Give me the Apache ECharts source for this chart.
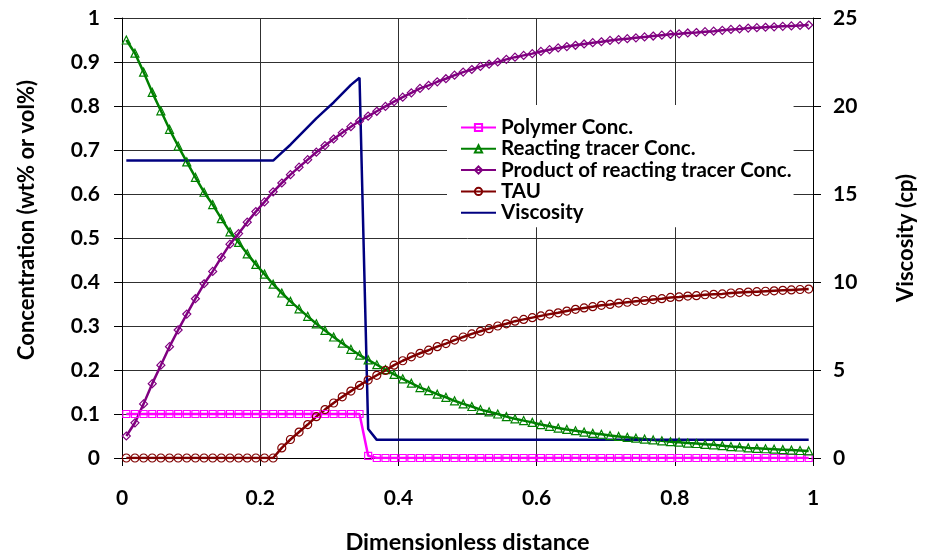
<!DOCTYPE html>
<html>
<head>
<meta charset="utf-8">
<script src="https://cdn.jsdelivr.net/npm/echarts@6/dist/echarts.min.js"></script>
<style>
html,body{margin:0;padding:0;background:#fff;}
#chart{width:925px;height:559px;}
</style>
</head>
<body>
<div id="chart"></div>
<script>
// Dimensionless distance (cell centres)
const distance = [0.00625,0.01875,0.03125,0.04375,0.05625,0.06875,0.08125,0.09375,0.10625,0.11875,
0.13125,0.14375,0.15625,0.16875,0.18125,0.19375,0.20625,0.21875,0.23125,0.24375,
0.25625,0.26875,0.28125,0.29375,0.30625,0.31875,0.33125,0.34375,0.35625,0.36875,
0.38125,0.39375,0.40625,0.41875,0.43125,0.44375,0.45625,0.46875,0.48125,0.49375,
0.50625,0.51875,0.53125,0.54375,0.55625,0.56875,0.58125,0.59375,0.60625,0.61875,
0.63125,0.64375,0.65625,0.66875,0.68125,0.69375,0.70625,0.71875,0.73125,0.74375,
0.75625,0.76875,0.78125,0.79375,0.80625,0.81875,0.83125,0.84375,0.85625,0.86875,
0.88125,0.89375,0.90625,0.91875,0.93125,0.94375,0.95625,0.96875,0.98125,0.99375];

const polymerConc = [0.1,0.1,0.1,0.1,0.1,0.1,0.1,0.1,0.1,0.1,
0.1,0.1,0.1,0.1,0.1,0.1,0.1,0.1,0.1,0.1,
0.1,0.1,0.1,0.1,0.1,0.1,0.1,0.1,0.005,0,
0,0,0,0,0,0,0,0,0,0,
0,0,0,0,0,0,0,0,0,0,
0,0,0,0,0,0,0,0,0,0,
0,0,0,0,0,0,0,0,0,0,
0,0,0,0,0,0,0,0,0,0];

const reactingTracer = [0.950,0.920,0.877,0.831,0.789,0.747,0.709,0.673,0.638,0.604,
0.576,0.544,0.514,0.490,0.464,0.440,0.418,0.395,0.375,0.356,
0.339,0.322,0.305,0.290,0.275,0.261,0.247,0.234,0.223,0.212,
0.201,0.190,0.180,0.170,0.160,0.153,0.145,0.138,0.130,0.123,
0.117,0.110,0.105,0.100,0.094,0.089,0.085,0.081,0.076,0.072,
0.068,0.065,0.062,0.059,0.056,0.054,0.051,0.049,0.047,0.045,
0.043,0.041,0.039,0.037,0.036,0.034,0.033,0.031,0.030,0.028,
0.026,0.025,0.023,0.022,0.021,0.020,0.019,0.018,0.017,0.016];

const productTracer = [0.050,0.080,0.123,0.169,0.211,0.253,0.291,0.327,0.362,0.396,
0.424,0.456,0.486,0.510,0.536,0.560,0.582,0.605,0.625,0.644,
0.661,0.678,0.695,0.710,0.725,0.739,0.753,0.766,0.777,0.788,
0.799,0.810,0.820,0.830,0.840,0.847,0.855,0.862,0.870,0.877,
0.883,0.890,0.895,0.900,0.906,0.911,0.915,0.919,0.924,0.928,
0.932,0.935,0.938,0.941,0.944,0.946,0.949,0.951,0.953,0.955,
0.957,0.959,0.961,0.963,0.964,0.966,0.967,0.969,0.970,0.972,
0.974,0.975,0.977,0.978,0.979,0.980,0.981,0.982,0.983,0.984];

const tau = [0,0,0,0,0,0,0,0,0,0,
0,0,0,0,0,0,0,0,0.023,0.042,
0.059,0.076,0.094,0.110,0.125,0.139,0.152,0.165,0.177,0.188,
0.199,0.211,0.221,0.230,0.238,0.245,0.253,0.260,0.268,0.275,
0.282,0.288,0.294,0.300,0.305,0.311,0.315,0.319,0.323,0.327,
0.330,0.334,0.338,0.341,0.344,0.347,0.349,0.352,0.354,0.356,
0.358,0.360,0.362,0.365,0.366,0.368,0.369,0.371,0.372,0.373,
0.375,0.376,0.377,0.378,0.379,0.380,0.381,0.382,0.383,0.384];

const viscosity = [16.9,16.9,16.9,16.9,16.9,16.9,16.9,16.9,16.9,16.9,
16.9,16.9,16.9,16.9,16.9,16.9,16.9,16.9,17.35,17.8,
18.3,18.8,19.3,19.75,20.2,20.7,21.2,21.6,1.65,1.03,
1.03,1.03,1.03,1.03,1.03,1.03,1.03,1.03,1.03,1.03,
1.03,1.03,1.03,1.03,1.03,1.03,1.03,1.03,1.03,1.03,
1.03,1.03,1.03,1.03,1.03,1.03,1.03,1.03,1.03,1.03,
1.03,1.03,1.03,1.03,1.03,1.03,1.03,1.03,1.03,1.03,
1.03,1.03,1.03,1.03,1.03,1.03,1.03,1.03,1.03,1.03];

const seriesNames = ['Polymer Conc.','Reacting tracer Conc.','Product of reacting tracer Conc.','TAU','Viscosity'];
const xTitle = 'Dimensionless distance';
const yLeftTitle = 'Concentration (wt% or vol%)';
const yRightTitle = 'Viscosity (cp)';

const pair = vals => distance.map((x, i) => [x, vals[i]]);
const FONT = 'Lato';
const txt = {fontFamily: FONT, fontWeight: 'bold', fontSize: 21, color: '#000'};
const gridColor = '#303030';

function lineSeries(name, vals, color, symbol, size, yIdx) {
  return {
    name: name, type: 'line', yAxisIndex: yIdx || 0,
    data: pair(vals),
    symbol: symbol, symbolSize: size,
    showSymbol: symbol !== 'none',
    lineStyle: {color: color, width: 2.5},
    itemStyle: {color: 'rgba(255,255,255,0)', borderColor: color, borderWidth: 1.2},
    emphasis: {disabled: true},
    z: 3
  };
}

const chart = echarts.init(document.getElementById('chart'), null, {renderer: 'canvas'});
chart.setOption({
  animation: false,
  backgroundColor: '#fff',
  grid: {left: 122, right: 112, top: 18, bottom: 98},
  legend: {
    orient: 'vertical', left: 447, top: 105,
    backgroundColor: '#fff',
    padding: [12, 2, 4, 13],
    itemWidth: 35, itemHeight: 9, itemGap: 0.3,
    textStyle: Object.assign({}, txt, {fontSize: 20.5, lineHeight: 21, padding: [0,0,0,0]}),
    data: seriesNames.slice(0, 4).concat([{name: seriesNames[4], itemStyle: {color: 'rgba(0,0,0,0)', borderWidth: 0, opacity: 0}}])
  },
  xAxis: {
    type: 'value', min: 0, max: 1, interval: 0.2,
    axisLine: {show: true, onZero: false, lineStyle: {color: '#000', width: 1}},
    axisTick: {show: true, inside: false, length: 8, lineStyle: {color: '#000'}},
    splitLine: {show: true, lineStyle: {color: gridColor, width: 1}},
    axisLabel: Object.assign({}, txt, {margin: 30}),
    name: xTitle, nameLocation: 'middle', nameGap: 72,
    nameTextStyle: Object.assign({}, txt, {fontSize: 23.5})
  },
  yAxis: [{
    type: 'value', min: 0, max: 1, interval: 0.1, position: 'left',
    axisLine: {show: true, lineStyle: {color: '#000', width: 1}},
    axisTick: {show: true, inside: false, length: 8, lineStyle: {color: '#000'}},
    splitLine: {show: true, lineStyle: {color: gridColor, width: 1}},
    axisLabel: Object.assign({}, txt, {margin: 22}),
    name: yLeftTitle, nameLocation: 'middle', nameGap: 84, nameRotate: 90,
    nameTextStyle: Object.assign({}, txt, {fontSize: 22, padding: [0, 0, 0, 36]})
  }, {
    type: 'value', min: 0, max: 25, interval: 5, position: 'right',
    axisLine: {show: true, lineStyle: {color: '#000', width: 1}},
    axisTick: {show: true, inside: false, length: 8, lineStyle: {color: '#000'}},
    splitLine: {show: false},
    axisLabel: Object.assign({}, txt, {margin: 20}),
    name: yRightTitle, nameLocation: 'middle', nameGap: 82, nameRotate: 90,
    nameTextStyle: Object.assign({}, txt, {fontSize: 22})
  }],
  series: [
    lineSeries(seriesNames[0], polymerConc, '#FF00FF', 'rect', 7, 0),
    lineSeries(seriesNames[1], reactingTracer, '#008000', 'triangle', 8, 0),
    lineSeries(seriesNames[2], productTracer, '#800080', 'diamond', 8, 0),
    lineSeries(seriesNames[3], tau, '#800000', 'circle', 8, 0),
    lineSeries(seriesNames[4], viscosity, '#000080', 'none', 0, 1)
  ]
});
</script>
</body>
</html>
